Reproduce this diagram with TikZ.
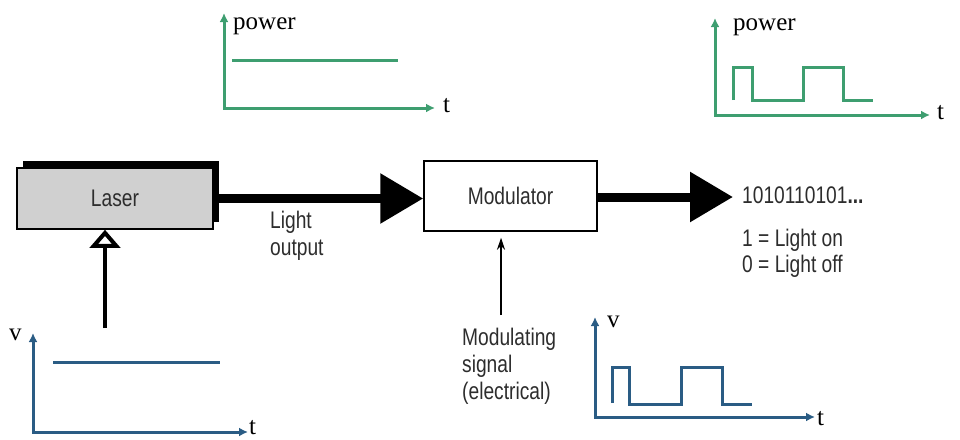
\documentclass[tikz,border=0pt]{standalone}
\usepackage{fontspec}
\setmainfont{Liberation Serif}
\newfontfamily\condsans[FakeStretch=0.8]{Liberation Sans}
\usetikzlibrary{arrows.meta,positioning,calc,shadows}
\definecolor{plotGreen}{RGB}{62,158,112}
\definecolor{plotBlue}{RGB}{42,92,132}
\definecolor{laserGray}{RGB}{208,208,208}
\definecolor{labelGray}{RGB}{45,45,45}
\tikzset{
  blocklabel/.style={text=labelGray, font=\condsans\fontsize{24}{27}\selectfont},
  blockbox/.style={draw, line width=1.5pt, blocklabel, inner sep=0pt},
  beam/.style={line width=9pt, -{Triangle[length=43pt,width=48pt]}},
  drivearrow/.style={line width=4pt, -{Triangle[open,length=18pt,width=30pt]}},
  signalarrow/.style={line width=1.2pt, -{Stealth[length=12pt,width=8pt]}},
  plotaxis/.style={line width=3pt, {Latex[length=9pt,width=9pt]}-{Latex[length=9pt,width=9pt]}},
  plotline/.style={line width=3pt},
  axislabel/.style={anchor=base west, inner sep=0pt, font=\fontsize{25}{28}\selectfont}
}
\begin{document}
\begin{tikzpicture}[x=1pt,y=-1pt]
  \useasboundingbox (0,0) rectangle (960,439);
  % blocks
  \node[blockbox, fill=laserGray, minimum width=196pt, minimum height=61pt,
        drop shadow={shadow xshift=6pt, shadow yshift=7pt, fill=black, opacity=1}]
        (laser) at (115,198.5) {Laser};
  \node[blockbox, fill=white, minimum width=173pt, minimum height=70pt]
        (modulator) at (510.5,196) {Modulator};
  % light path
  \draw[beam] (laser.east) -- (laser.east -| modulator.west);
  \coordinate (outtip) at (733,197);
  \draw[beam] (modulator.east |- outtip) -- (outtip);
  \node[blocklabel, anchor=north west, align=left, inner sep=0pt] (lightout) at (270,211) {Light\\output};
  \node[blocklabel, anchor=west, inner sep=0pt] (bits) at (742,195) {1010110101\textbf{...}};
  \node[blocklabel, anchor=north west, align=left, inner sep=0pt, font=\condsans\fontsize{24}{26}\selectfont]
        (legend) at (742,229) {1 = Light on\\0 = Light off};
  % drive and modulating inputs
  \coordinate (drive) at (105,328);
  \draw[drivearrow] (drive) -- (drive |- laser.south);
  \coordinate (msig) at (501,315);
  \draw[signalarrow, shorten >=6pt] (msig) -- (msig |- modulator.south);
  \node[blocklabel, anchor=north west, align=left, inner sep=0pt] (msiglabel) at (462,328)
        {Modulating\\signal\\(electrical)};
  % power, constant
  \begin{scope}[plotGreen]
    \draw[plotaxis] (224,13) -- (224,108) -- (435,108);
    \draw[plotline] (232,60) -- (398,60);
  \end{scope}
  \node[axislabel] (powerA) at (233,29) {power};
  \node[axislabel] (timeA) at (443,112) {t};
  % power, pulses
  \begin{scope}[plotGreen]
    \draw[plotaxis] (715,18) -- (715,115) -- (930,115);
    \draw[plotline] (733,100) -- (733,67) -- (752,67) -- (752,100) -- (803,100)
      -- (803,67) -- (843,67) -- (843,100) -- (873,100);
  \end{scope}
  \node[axislabel] (powerB) at (733,30) {power};
  \node[axislabel] (timeB) at (937,119) {t};
  % voltage, constant
  \begin{scope}[plotBlue]
    \draw[plotaxis] (33,333) -- (33,432) -- (248,432);
    \draw[plotline] (53,362) -- (220,362);
  \end{scope}
  \node[axislabel] (voltA) at (9,340) {v};
  \node[axislabel] (timeC) at (249,434) {t};
  % voltage, pulses
  \begin{scope}[plotBlue]
    \draw[plotaxis] (595,317) -- (595,417) -- (815,417);
    \draw[plotline] (612,403) -- (612,367) -- (629,367) -- (629,404) -- (681,404)
      -- (681,367) -- (722,367) -- (722,404) -- (752,404);
  \end{scope}
  \node[axislabel] (voltB) at (607,327) {v};
  \node[axislabel] (timeD) at (817,425) {t};
\end{tikzpicture}
\end{document}
